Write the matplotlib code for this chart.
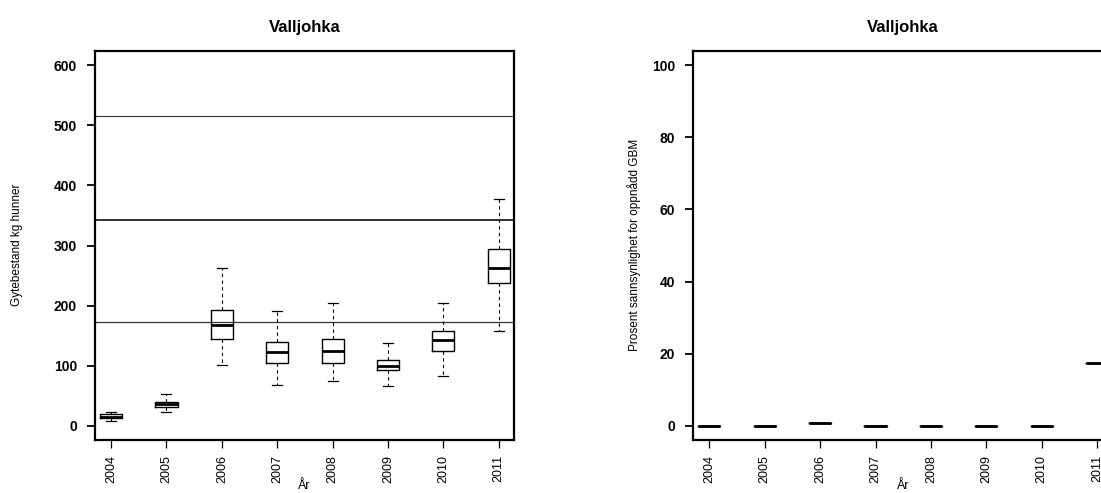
import matplotlib
matplotlib.use("Agg")
import matplotlib.pyplot as plt

plt.rcParams['font.family'] = ['Liberation Sans', 'DejaVu Sans']

# ---- data ----
years = ["2004", "2005", "2006", "2007", "2008", "2009", "2010", "2011"]

# Left panel: Gytebestand kg hunner (box statistics)
gb_whislo = [8, 22, 101, 67, 75, 66, 82, 158]
gb_q1 = [12, 31, 145, 104, 105, 93, 125, 237]
gb_med = [15, 36, 168, 122, 124, 100, 142, 263]
gb_q3 = [19, 40, 192, 140, 145, 110, 157, 294]
gb_whishi = [23, 52, 263, 191, 204, 137, 204, 377]
ref_lines = [172, 343, 515]

# Right panel: Prosent sannsynlighet for oppnådd GBM
pr_med = [0, 0, 0.8, 0, 0, 0, 0, 17.4]

title = "Valljohka"
ylab_left = "Gytebestand kg hunner"
ylab_right = "Prosent sannsynlighet for oppnådd GBM"
xlab = "År"

# ---- figure ----
W, H = 1101, 493
fig = plt.figure(figsize=(W / 100, H / 100), dpi=100)


def px_axes(x0, y0, x1, y1):
    return fig.add_axes([x0 / W, 1 - y1 / H, (x1 - x0) / W, (y1 - y0) / H])


axL = px_axes(95, 51, 514.3, 440)
axR = px_axes(693.3, 51, 1112.6, 440)

positions = list(range(1, len(years) + 1))

statsL = [dict(med=m, q1=a, q3=b, whislo=lo, whishi=hi, fliers=[], label=y)
          for y, lo, a, m, b, hi in zip(years, gb_whislo, gb_q1, gb_med, gb_q3, gb_whishi)]
statsR = [dict(med=m, q1=m, q3=m, whislo=m, whishi=m, fliers=[], label=y)
          for y, m in zip(years, pr_med)]

common = dict(
    positions=positions, widths=0.4, showfliers=False, patch_artist=False,
    boxprops=dict(color='black', linewidth=1.0),
    medianprops=dict(color='black', linewidth=2.0, solid_capstyle='butt'),
    whiskerprops=dict(color='black', linewidth=0.8, linestyle=(0, (3, 3))),
    capprops=dict(color='black', linewidth=0.9),
)

for y_, lw in zip(ref_lines, [0.9, 1.4, 0.8]):
    axL.axhline(y_, color='#333333', linewidth=lw, zorder=1)

axL.bxp(statsL, capwidths=0.18, **common)
axR.bxp(statsR, capwidths=0.0, **common)

for ax, ylim, yticks, ylab, lx in [
    (axL, (-24, 624), [0, 100, 200, 300, 400, 500, 600], ylab_left, 17.5),
    (axR, (-4, 104), [0, 20, 40, 60, 80, 100], ylab_right, 634),
]:
    ax.set_xlim(0.71, 8.28)
    ax.set_ylim(*ylim)
    ax.set_yticks(yticks)
    ax.set_yticklabels([str(t) for t in yticks], fontsize=10, fontweight='bold')
    ax.set_xticks(positions)
    ax.set_xticklabels(years, rotation=90, fontsize=9)
    ax.tick_params(axis='y', length=6, width=1.3, pad=7)
    ax.tick_params(axis='x', length=6, width=0.9, pad=5)
    for s in ax.spines.values():
        s.set_linewidth(1.6)
    ax.set_title(title, fontsize=12, fontweight='bold', pad=14)
    fig.text(lx / W, 1 - 245 / H, ylab, rotation=90, fontsize=8.5,
             ha='center', va='center')

fig.text(304.5 / W, 1 - 492 / H, xlab, fontsize=9, ha='center', va='bottom')
fig.text(903 / W, 1 - 492 / H, xlab, fontsize=9, ha='center', va='bottom')

fig.savefig("out.png", dpi=100)
